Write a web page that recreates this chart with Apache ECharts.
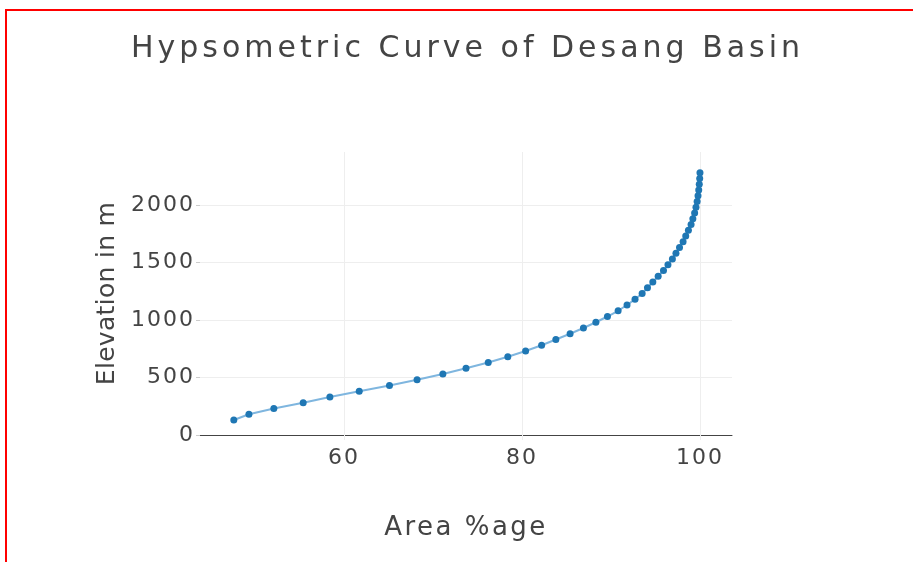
<!DOCTYPE html>
<html>
<head>
<meta charset="utf-8">
<script src="https://cdn.jsdelivr.net/npm/echarts@6/dist/echarts.min.js"></script>
<style>
  html, body { margin: 0; padding: 0; background: #fff; }
  #frame { position: absolute; left: 5px; top: 9px; width: 2000px; height: 2000px;
           border-top: 2px solid #ff0000; border-left: 2px solid #ff0000; }
  #chart { position: absolute; left: 0; top: 0; width: 913px; height: 562px; }
</style>
</head>
<body>
<div id="frame"></div>
<div id="chart"></div>
<script>
const titleText = 'Hypsometric Curve of Desang Basin';
const xAxisTitle = 'Area %age';
const yAxisTitle = 'Elevation in m';
const xTicks = [60, 80, 100];
const yTicks = [0, 500, 1000, 1500, 2000];

const areaPct = [47.6, 49.3, 52.1, 55.4, 58.4, 61.7, 65.1, 68.2, 71.1, 73.7,
  76.2, 78.4, 80.4, 82.2, 83.8, 85.4, 86.9, 88.3, 89.6, 90.8,
  91.8, 92.7, 93.5, 94.1, 94.7, 95.3, 95.9, 96.4, 96.9, 97.3,
  97.7, 98.1, 98.4, 98.7, 99.0, 99.2, 99.4, 99.55, 99.68, 99.78,
  99.86, 99.92, 99.97, 100];
const elevation = [130, 180, 230, 280, 330, 380, 430, 480, 530, 580,
  630, 680, 730, 780, 830, 880, 930, 980, 1030, 1080,
  1130, 1180, 1230, 1280, 1330, 1380, 1430, 1480, 1530, 1580,
  1630, 1680, 1730, 1780, 1830, 1880, 1930, 1980, 2030, 2080,
  2130, 2180, 2230, 2280];

// letter spacing (px) applied to canvas text, keyed by font size
const letterSpacingBySize = { 30: 4, 26: 2.5, 25: 0.3, 22: 2 };
(function () {
  const proto = CanvasRenderingContext2D.prototype;
  if (!('letterSpacing' in proto)) return;
  const fill = proto.fillText, measure = proto.measureText;
  function apply(ctx) {
    const m = /(\d+(?:\.\d+)?)px/.exec(ctx.font || '');
    const sp = m ? letterSpacingBySize[parseFloat(m[1])] : undefined;
    ctx.letterSpacing = sp ? sp + 'px' : '0px';
  }
  proto.fillText = function () { apply(this); return fill.apply(this, arguments); };
  proto.measureText = function () { apply(this); return measure.apply(this, arguments); };
})();

const points = areaPct.map((a, i) => [a, elevation[i]]);
const font = 'DejaVu Sans';

const chart = echarts.init(document.getElementById('chart'), null, { renderer: 'canvas' });
chart.setOption({
  animation: false,
  backgroundColor: 'transparent',
  title: {
    text: titleText,
    left: 126,
    top: 27,
    padding: 5,
    textStyle: { fontFamily: font, fontSize: 30, fontWeight: 'normal', color: '#444' }
  },
  grid: { left: 200, right: 181, top: 152, bottom: 127 },
  xAxis: {
    type: 'value',
    min: 43.8,
    max: 103.6,
    name: xAxisTitle,
    nameLocation: 'middle',
    nameGap: 79,
    nameTextStyle: { fontFamily: font, fontSize: 26, color: '#444' },
    axisLine: { show: true, onZero: false, lineStyle: { color: '#444', width: 1 } },
    axisTick: { show: true, length: 5, customValues: xTicks, lineStyle: { color: '#eee' } },
    axisLabel: { customValues: xTicks, margin: 11, fontFamily: font, fontSize: 22, color: '#444' },
    splitLine: { show: true, lineStyle: { color: '#eee', width: 1 } }
  },
  yAxis: {
    type: 'value',
    min: 0,
    max: 2460,
    name: yAxisTitle,
    nameLocation: 'middle',
    nameGap: 78,
    nameRotate: 90,
    nameTextStyle: { fontFamily: font, fontSize: 25, color: '#444' },
    axisLine: { show: false },
    axisTick: { show: true, length: 4, customValues: yTicks, lineStyle: { color: '#ccc' } },
    axisLabel: { customValues: yTicks, margin: 5, fontFamily: font, fontSize: 22, color: '#444',
                 formatter: v => String(v) },
    splitLine: { show: true, lineStyle: { color: '#eee', width: 1 } }
  },
  series: [{
    type: 'line',
    data: points,
    symbol: 'circle',
    symbolSize: 7,
    itemStyle: { color: '#1f77b4' },
    lineStyle: { color: '#7fb6df', width: 2 },
    z: 3
  }]
});
</script>
</body>
</html>
